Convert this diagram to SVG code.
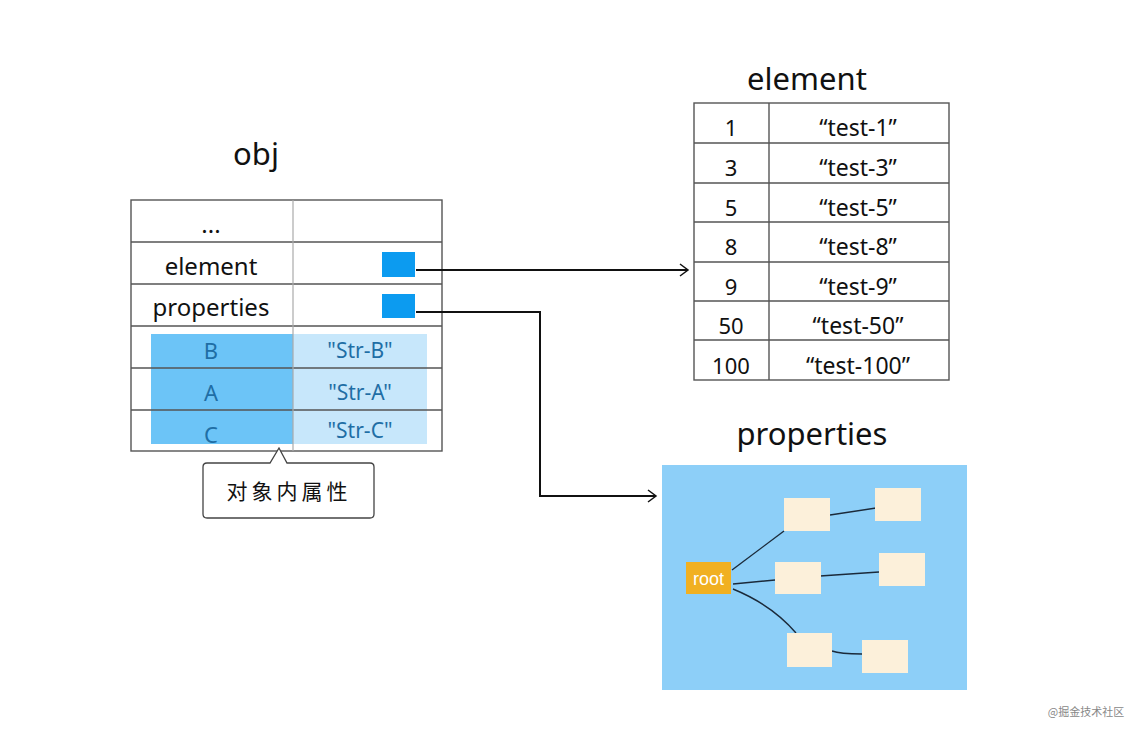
<svg xmlns="http://www.w3.org/2000/svg" width="1142" height="732" viewBox="0 0 1142 732">
<style>
.t{font-family:"Noto Sans","DejaVu Sans",sans-serif;fill:#111;text-anchor:middle}
.title{font-size:31px}
.cell{font-size:24px}
.num{font-size:22px}
.val{font-size:23px}
.blu{font-size:22px;fill:#1f6ea5}
.str{font-size:21px;fill:#1f6ea5}
.grid{stroke:#555;stroke-width:1.4;fill:none}
.cream{fill:#fcf0da}
.edge{stroke:#1b2a3a;stroke-width:1.4;fill:none}
.conn{stroke:#111;stroke-width:2;fill:none}
</style>
<defs>
<marker id="arr" markerWidth="12" markerHeight="14" refX="10" refY="7" orient="auto" markerUnits="userSpaceOnUse">
<polyline points="2,1 10,7 2,13" fill="none" stroke="#111" stroke-width="1.5"/>
</marker>
</defs>
<rect width="1142" height="732" fill="#fff"/>

<g id="obj">
<text class="t title" x="256" y="165">obj</text>
<rect x="151" y="334" width="142" height="110" fill="#6cc4f7"/>
<rect x="293" y="334" width="134" height="110" fill="#c7e7fb"/>
<rect x="131" y="200" width="311" height="251" class="grid"/>
<line x1="131" y1="242" x2="442" y2="242" class="grid"/>
<line x1="131" y1="284" x2="442" y2="284" class="grid"/>
<line x1="131" y1="326" x2="442" y2="326" class="grid"/>
<line x1="131" y1="368" x2="442" y2="368" class="grid"/>
<line x1="131" y1="410" x2="442" y2="410" class="grid"/>
<line x1="293" y1="200" x2="293" y2="451" stroke="#aaa" stroke-width="1.2"/>
<text class="t cell" x="211" y="233">...</text>
<text class="t cell" x="211" y="275">element</text>
<text class="t cell" x="211" y="316">properties</text>
<text class="t blu" x="211" y="359">B</text>
<text class="t blu" x="211" y="401">A</text>
<text class="t blu" x="211" y="443">C</text>
<text class="t str" x="360" y="358">"Str-B"</text>
<text class="t str" x="360" y="400">"Str-A"</text>
<text class="t str" x="360" y="438">"Str-C"</text>
<rect x="382" y="252" width="33" height="25" fill="#0c9bf0"/>
<rect x="382" y="294" width="33" height="24" fill="#0c9bf0"/>
</g>

<g id="callout">
<path d="M207,463 L270,463 L279,448 L287,463 L370,463 Q374,463 374,467 L374,514 Q374,518 370,518 L207,518 Q203,518 203,514 L203,467 Q203,463 207,463 Z" fill="#fff" stroke="#444" stroke-width="1.3"/>
<text class="t" x="289" y="499" style="font-size:21px;font-family:'Noto Sans CJK SC',sans-serif;letter-spacing:4px">对象内属性</text>
</g>

<g id="element-table">
<text class="t title" x="807" y="90">element</text>
<rect x="694" y="103" width="255" height="277" class="grid"/>
<line x1="694" y1="143" x2="949" y2="143" class="grid"/>
<line x1="694" y1="183" x2="949" y2="183" class="grid"/>
<line x1="694" y1="222" x2="949" y2="222" class="grid"/>
<line x1="694" y1="262" x2="949" y2="262" class="grid"/>
<line x1="694" y1="301" x2="949" y2="301" class="grid"/>
<line x1="694" y1="340" x2="949" y2="340" class="grid"/>
<line x1="769" y1="103" x2="769" y2="380" class="grid"/>
<text class="t num" x="731" y="136">1</text>
<text class="t val" x="858" y="136">“test-1”</text>
<text class="t num" x="731" y="176">3</text>
<text class="t val" x="858" y="176">“test-3”</text>
<text class="t num" x="731" y="216">5</text>
<text class="t val" x="858" y="216">“test-5”</text>
<text class="t num" x="731" y="255">8</text>
<text class="t val" x="858" y="255">“test-8”</text>
<text class="t num" x="731" y="295">9</text>
<text class="t val" x="858" y="295">“test-9”</text>
<text class="t num" x="731" y="334">50</text>
<text class="t val" x="858" y="334">“test-50”</text>
<text class="t num" x="731" y="374">100</text>
<text class="t val" x="858" y="374">“test-100”</text>
</g>

<g id="properties">
<text class="t title" x="812" y="445">properties</text>
<rect x="662" y="465" width="305" height="225" fill="#8dcff8"/>
<line x1="732" y1="570" x2="784" y2="531" class="edge"/>
<line x1="733" y1="584" x2="775" y2="580" class="edge"/>
<path d="M733,589 Q772,605 796,633" class="edge"/>
<line x1="830" y1="515" x2="876" y2="508" class="edge"/>
<line x1="820" y1="576" x2="879" y2="572" class="edge"/>
<path d="M832,651 Q840,654 862,654" class="edge"/>
<rect x="686" y="562" width="45" height="32" fill="#f1b021"/>
<text x="708.5" y="585" text-anchor="middle" style="font-family:'Liberation Sans',Arial,sans-serif;font-size:18px;fill:#fff">root</text>
<rect x="784" y="498" width="46" height="33" class="cream"/>
<rect x="875" y="488" width="46" height="33" class="cream"/>
<rect x="775" y="562" width="46" height="32" class="cream"/>
<rect x="879" y="553" width="46" height="33" class="cream"/>
<rect x="787" y="633" width="45" height="34" class="cream"/>
<rect x="862" y="640" width="46" height="33" class="cream"/>
</g>

<g id="connectors">
<path d="M416,270 L688,270" class="conn" marker-end="url(#arr)"/>
<path d="M416,312 L540,312 L540,496 L656,496" class="conn" marker-end="url(#arr)"/>
</g>

<text x="1086" y="716" text-anchor="middle" style="font-family:'Noto Sans CJK SC',sans-serif;font-size:11px;fill:#888">@掘金技术社区</text>
</svg>
